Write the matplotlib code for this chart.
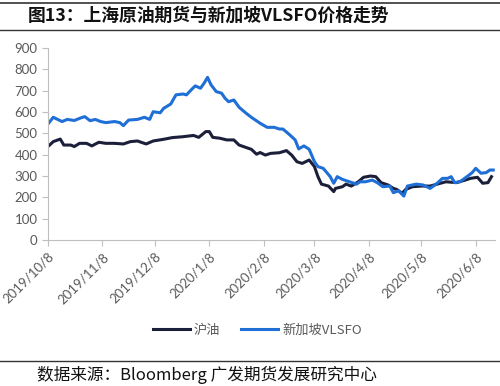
import pandas as pd
import numpy as np
import matplotlib.pyplot as plt
from matplotlib.lines import Line2D

plt.rcParams['font.family'] = ['Noto Sans CJK SC', 'DejaVu Sans']

# 沪油 (Shanghai crude futures)
sc_dates = ['2019-10-08', '2019-10-11', '2019-10-15', '2019-10-17', '2019-10-21',
            '2019-10-23', '2019-10-26', '2019-10-30', '2019-11-02', '2019-11-06',
            '2019-11-10', '2019-11-15', '2019-11-20', '2019-11-24', '2019-11-28',
            '2019-12-03', '2019-12-07', '2019-12-13', '2019-12-18', '2019-12-24',
            '2019-12-30', '2020-01-02', '2020-01-06', '2020-01-08', '2020-01-10',
            '2020-01-14', '2020-01-18', '2020-01-22', '2020-01-25', '2020-02-01',
            '2020-02-04', '2020-02-06', '2020-02-09', '2020-02-12', '2020-02-17',
            '2020-02-21', '2020-02-24', '2020-02-27', '2020-03-01', '2020-03-05',
            '2020-03-08', '2020-03-10', '2020-03-12', '2020-03-16', '2020-03-19',
            '2020-03-20', '2020-03-24', '2020-03-26', '2020-03-29', '2020-04-02',
            '2020-04-05', '2020-04-09', '2020-04-12', '2020-04-15', '2020-04-19',
            '2020-04-22', '2020-04-24', '2020-04-27', '2020-04-29', '2020-05-03',
            '2020-05-08', '2020-05-13', '2020-05-17', '2020-05-22', '2020-05-28',
            '2020-06-02', '2020-06-05', '2020-06-09', '2020-06-12', '2020-06-15',
            '2020-06-17']
sc_values = [438, 461, 473, 445, 445, 438, 453, 453, 441, 458,
             453, 453, 450, 461, 464, 450, 464, 472, 480, 484,
             490, 481, 508, 508, 481, 477, 469, 469, 445, 425,
             402, 410, 398, 406, 409, 419, 398, 367, 359, 375,
             344, 297, 262, 253, 227, 242, 250, 262, 253, 273,
             294, 300, 297, 269, 258, 242, 237, 219, 237, 250,
             253, 253, 262, 273, 269, 281, 289, 294, 266, 269,
             297]

# 新加坡VLSFO
vl_dates = ['2019-10-08', '2019-10-11', '2019-10-16', '2019-10-19', '2019-10-23',
            '2019-10-27', '2019-10-29', '2019-11-01', '2019-11-04', '2019-11-07',
            '2019-11-10', '2019-11-15', '2019-11-18', '2019-11-20', '2019-11-23',
            '2019-11-28', '2019-12-02', '2019-12-05', '2019-12-07', '2019-12-11',
            '2019-12-13', '2019-12-17', '2019-12-20', '2019-12-24', '2019-12-26',
            '2019-12-29', '2019-12-31', '2020-01-03', '2020-01-05', '2020-01-07',
            '2020-01-09', '2020-01-12', '2020-01-15', '2020-01-17', '2020-01-19',
            '2020-01-22', '2020-01-25', '2020-01-29', '2020-02-01', '2020-02-06',
            '2020-02-10', '2020-02-14', '2020-02-17', '2020-02-19', '2020-02-23',
            '2020-02-26', '2020-02-28', '2020-03-02', '2020-03-05', '2020-03-08',
            '2020-03-10', '2020-03-13', '2020-03-17', '2020-03-19', '2020-03-21',
            '2020-03-24', '2020-03-28', '2020-04-01', '2020-04-03', '2020-04-06',
            '2020-04-10', '2020-04-13', '2020-04-16', '2020-04-20', '2020-04-22',
            '2020-04-25', '2020-04-28', '2020-04-30', '2020-05-05', '2020-05-09',
            '2020-05-13', '2020-05-17', '2020-05-20', '2020-05-23', '2020-05-25',
            '2020-05-27', '2020-05-30', '2020-06-03', '2020-06-06', '2020-06-08',
            '2020-06-11', '2020-06-14', '2020-06-16', '2020-06-18']
vl_values = [544, 575, 555, 565, 560, 573, 578, 559, 565, 555,
             550, 555, 550, 536, 562, 565, 575, 565, 601, 596,
             617, 637, 680, 684, 680, 706, 722, 711, 734, 762,
             727, 695, 688, 664, 648, 656, 622, 594, 575, 547,
             528, 528, 520, 520, 492, 469, 427, 441, 425, 367,
             344, 336, 297, 266, 297, 284, 273, 262, 273, 273,
             281, 268, 250, 253, 222, 231, 206, 253, 262, 258,
             242, 266, 289, 289, 297, 269, 273, 297, 316, 336,
             313, 316, 328, 328]

tick_dates = ['2019-10-08', '2019-11-08', '2019-12-08', '2020-01-08', '2020-02-08',
              '2020-03-08', '2020-04-08', '2020-05-08', '2020-06-08']
tick_labels = ['2019/10/8', '2019/11/8', '2019/12/8', '2020/1/8', '2020/2/8',
               '2020/3/8', '2020/4/8', '2020/5/8', '2020/6/8']

black_c = '#1c1f3a'
blue_c = '#1f6fd6'
grey = '#595959'

fig = plt.figure(figsize=(5, 3.86), dpi=100)
ax = fig.add_axes([0.096, 0.378, 0.894, 0.498])

ax.plot(pd.to_datetime(sc_dates), sc_values, color=black_c, lw=2.2, label='沪油')
ax.plot(pd.to_datetime(vl_dates), vl_values, color=blue_c, lw=2.2, label='新加坡VLSFO')

ax.set_ylim(0, 900)
ax.set_yticks(np.arange(0, 901, 100))
ax.set_xlim(pd.Timestamp('2019-10-08'), pd.Timestamp('2020-06-19'))
ax.set_xticks(pd.to_datetime(tick_dates))
ax.set_xticklabels(tick_labels, rotation=45, ha='right', rotation_mode='anchor')

for s in ['top', 'right']:
    ax.spines[s].set_visible(False)
for s in ['left', 'bottom']:
    ax.spines[s].set_color('#bfbfbf')
ax.tick_params(colors='#bfbfbf', labelcolor=grey, labelsize=9.5, length=4)
for lab in ax.get_xticklabels() + ax.get_yticklabels():
    lab.set_family(['Lato', 'DejaVu Sans'])

handles = [Line2D([], [], color=black_c, lw=2.2), Line2D([], [], color=blue_c, lw=2.2)]
fig.legend(handles, ['沪油', '新加坡VLSFO'], loc='center', bbox_to_anchor=(0.515, 0.145),
           ncol=2, frameon=False, fontsize=9.5, handlelength=2.8, columnspacing=1.6,
           handletextpad=0.3, labelcolor=grey)

# title and separator lines
fig.add_artist(Line2D([0, 1], [1 - 3 / 386, 1 - 3 / 386], color='#333333', lw=1.2))
fig.add_artist(Line2D([0, 1], [1 - 30 / 386, 1 - 30 / 386], color='#333333', lw=1.0))
fig.add_artist(Line2D([0, 1], [1 - 361 / 386, 1 - 361 / 386], color='#333333', lw=1.0))
fig.text(0.056, 1 - 16 / 386, '图13：上海原油期货与新加坡VLSFO价格走势', fontsize=12.8,
         fontweight='bold', va='center', ha='left', color='#111111')
fig.text(0.074, 1 - 375 / 386, '数据来源：Bloomberg 广发期货发展研究中心', fontsize=12,
         va='center', ha='left', color='#111111')

fig.savefig('out.png', dpi=100)
